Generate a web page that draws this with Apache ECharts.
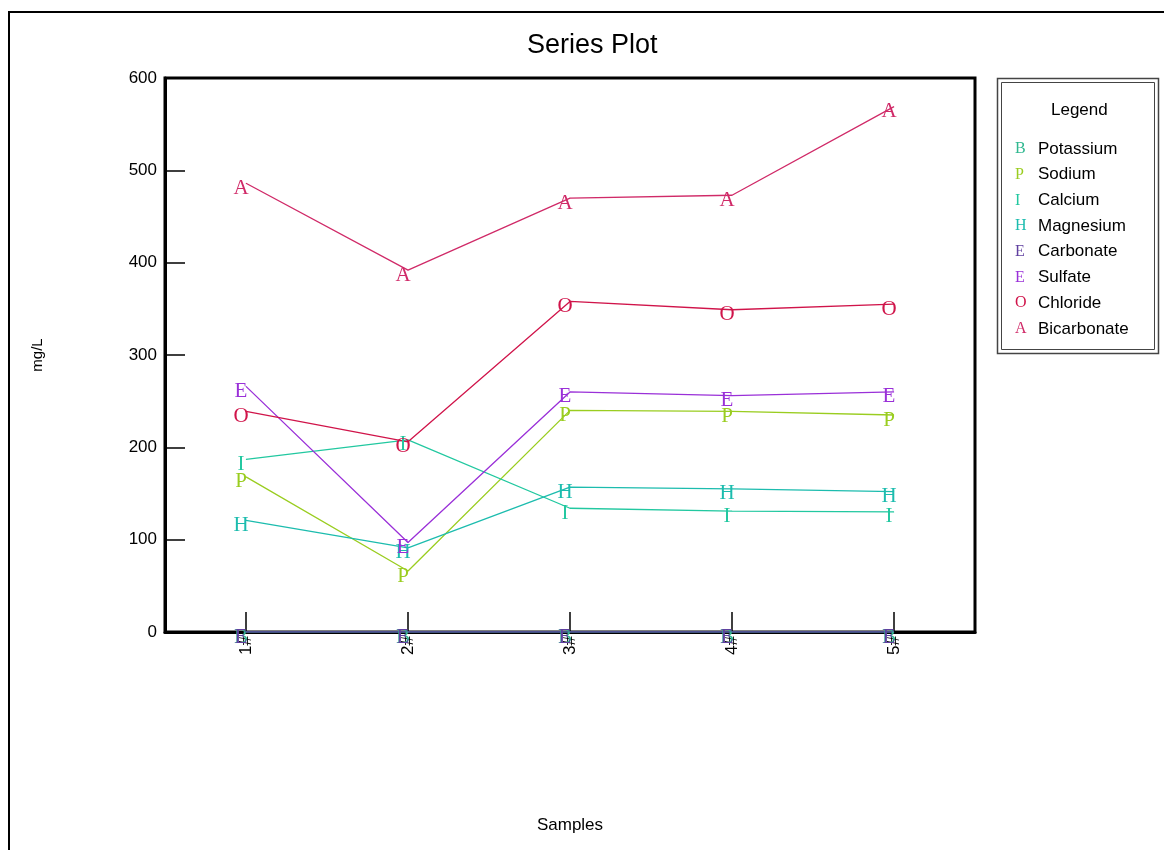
<!DOCTYPE html>
<html>
<head>
<meta charset="utf-8">
<script src="https://cdn.jsdelivr.net/npm/echarts@6/dist/echarts.min.js"></script>
<style>html,body{margin:0;padding:0;background:#fff;}#c{width:1164px;height:850px;}</style>
</head>
<body>
<div id="c"></div>
<script>
const categories = ['1#', '2#', '3#', '4#', '5#'];
const yTicks = [0, 100, 200, 300, 400, 500, 600];
const seriesNames = ['Potassium', 'Sodium', 'Calcium', 'Magnesium', 'Carbonate', 'Sulfate', 'Chloride', 'Bicarbonate'];
const seriesLetters = ['B', 'P', 'I', 'H', 'E', 'E', 'O', 'A'];
const seriesColors = ['#30b890', '#9acd20', '#22c8a0', '#1cbcae', '#6040a0', '#9a30d8', '#d0144a', '#d02a68'];
const potassium = [0, 0, 0, 0, 0];
const sodium = [168, 66, 240, 239, 235];
const calcium = [187, 208, 134, 131, 130];
const magnesium = [121, 91, 157, 155, 152];
const carbonate = [0, 0, 0, 0, 0];
const sulfate = [266, 97, 260, 256, 260];
const chloride = [239, 206, 358, 349, 355];
const bicarbonate = [486, 392, 470, 473, 569];
const seriesValues = [potassium, sodium, calcium, magnesium, carbonate, sulfate, chloride, bicarbonate];

const SANS = 'Liberation Sans, Arial, sans-serif';
const SERIF = 'Liberation Serif, Times New Roman, serif';

const rich = { t: { fontFamily: SANS, fontSize: 17, color: '#000' } };
seriesNames.forEach((n, i) => {
  rich['m' + i] = { fontFamily: SERIF, fontSize: 16, color: seriesColors[i], width: 23, align: 'left' };
});

const chart = echarts.init(document.getElementById('c'), null, { renderer: 'canvas' });
chart.setOption({
  backgroundColor: '#fff',
  animation: false,
  title: [
    { text: 'Series Plot', left: 522, top: 27, textStyle: { fontFamily: SANS, fontSize: 27, fontWeight: 'normal', color: '#000' } },
    { text: 'Legend', left: 1046, top: 97, textStyle: { fontFamily: SANS, fontSize: 17, fontWeight: 'normal', color: '#000' } }
  ],
  grid: { left: 165, top: 78, right: 189, bottom: 218, show: true, borderColor: '#000', borderWidth: 3, backgroundColor: 'transparent' },
  legend: {
    orient: 'vertical', left: 1005, top: 134, itemWidth: 0, itemHeight: 0, itemGap: 5.7,
    icon: 'rect', selectedMode: false,
    data: seriesNames,
    formatter: function (name) { const i = seriesNames.indexOf(name); return '{m' + i + '|' + seriesLetters[i] + '}{t|' + name + '}'; },
    textStyle: { fontFamily: SANS, fontSize: 17, color: '#000', lineHeight: 20, rich: rich }
  },
  graphic: [
    { type: 'rect', shape: { x: 9, y: 12, width: 1200, height: 900 }, style: { fill: 'none', stroke: '#000', lineWidth: 2 }, z: 0 },
    { type: 'rect', shape: { x: 997.5, y: 78.5, width: 161, height: 275 }, style: { fill: 'none', stroke: '#444', lineWidth: 1.5 } },
    { type: 'rect', shape: { x: 1001.5, y: 82.5, width: 153, height: 267 }, style: { fill: 'none', stroke: '#444', lineWidth: 1 } }
  ],
  xAxis: {
    type: 'category', data: categories, boundaryGap: true,
    name: 'Samples', nameLocation: 'middle', nameGap: 185,
    nameTextStyle: { fontFamily: SANS, fontSize: 17, color: '#000' },
    axisLine: { show: true, lineStyle: { color: '#000', width: 3 } },
    axisTick: { show: true, alignWithLabel: true, inside: true, length: 20, lineStyle: { color: '#000', width: 1.5 } },
    axisLabel: { rotate: 90, fontFamily: SANS, fontSize: 17, color: '#000', margin: 4 },
    splitLine: { show: false }
  },
  yAxis: {
    type: 'value', min: yTicks[0], max: yTicks[yTicks.length - 1], interval: 100,
    name: 'mg/L', nameLocation: 'middle', nameGap: 120, nameRotate: 90,
    nameTextStyle: { fontFamily: SANS, fontSize: 15, color: '#000' },
    axisLine: { show: true, lineStyle: { color: '#000', width: 3 } },
    axisTick: { show: true, inside: true, length: 20, lineStyle: { color: '#000', width: 1.5 } },
    axisLabel: { fontFamily: SANS, fontSize: 17, color: '#000', margin: 8 },
    splitLine: { show: false }
  },
  series: seriesNames.map((name, i) => ({
    name: name, type: 'line', data: seriesValues[i],
    symbol: 'circle', symbolSize: 0.5,
    itemStyle: { color: seriesColors[i] },
    lineStyle: { color: seriesColors[i], width: 1.3 },
    label: {
      show: true, position: 'inside', offset: [-5, 5],
      formatter: seriesLetters[i],
      fontFamily: SERIF, fontSize: 21, color: seriesColors[i]
    },
    emphasis: { disabled: true }
  }))
});
</script>
</body>
</html>
